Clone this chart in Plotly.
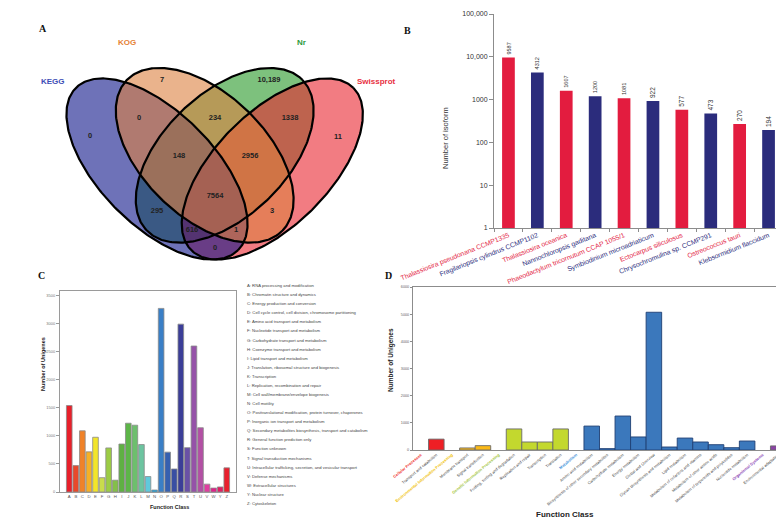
import numpy as np
import plotly.graph_objects as go

W, H = 784, 529
SANS = "Arial, Liberation Sans, sans-serif"
SERIF = "Times New Roman, Liberation Serif, serif"

# ---------------- Panel A : Venn diagram ----------------
venn_sets = ["KEGG", "KOG", "Nr", "Swissprot"]
venn_set_colors = ["#3d4db5", "#e58235", "#2e9a3c", "#e8303f"]
venn_fill = {"KEGG": "rgba(13,20,137,0.6)", "KOG": "rgba(220,128,63,0.6)",
             "Nr": "rgba(38,152,38,0.6)", "Swissprot": "rgba(233,37,47,0.6)"}
venn_regions = ["KEGG", "KOG", "Nr", "Swissprot",
                "KEGG&KOG", "KOG&Nr", "Nr&Swissprot",
                "KEGG&KOG&Nr", "KOG&Nr&Swissprot", "KEGG&KOG&Nr&Swissprot",
                "KEGG&Nr", "KOG&Swissprot", "KEGG&Nr&Swissprot",
                "KEGG&KOG&Swissprot", "KEGG&Swissprot"]
venn_counts = [0, 7, 10189, 11, 0, 234, 1338, 148, 2956, 7564, 295, 3, 616, 1, 0]

# ---------------- Panel B : species hits ----------------
species = ["Thalassiosira pseudonana CCMP1335", "Fragilariopsis cylindrus CCMP1102",
           "Thalassiosira oceanica", "Nannochloropsis gaditana",
           "Phaeodactylum tricornutum CCAP 1055/1", "Symbiodinium microadriaticum",
           "Ectocarpus siliculosus", "Chrysochromulina sp. CCMP291",
           "Ostreococcus tauri", "Klebsormidium flaccidum"]
isoform_counts = [9587, 4312, 1607, 1200, 1081, 922, 577, 473, 270, 194]
b_tick_vals = [1, 10, 100, 1000, 10000, 100000]
b_tick_text = ["1", "10", "100", "1000", "10,000", "100,000"]

# ---------------- Panel C : KOG classes ----------------
kog_classes = list("ABCDEFGHIJKLMNOPQRSTUVWYZ")
kog_counts = [1540, 470, 1090, 715, 975, 255, 785, 210, 855, 1225, 1190, 845, 275,
              35, 3270, 710, 410, 2990, 790, 2600, 1145, 140, 70, 90, 430]
kog_descriptions = [
    "RNA processing and modification",
    "Chromatin structure and dynamics",
    "Energy production and conversion",
    "Cell cycle control, cell division, chromosome partitioning",
    "Amino acid transport and metabolism",
    "Nucleotide transport and metabolism",
    "Carbohydrate transport and metabolism",
    "Coenzyme transport and metabolism",
    "Lipid transport and metabolism",
    "Translation, ribosomal structure and biogenesis",
    "Transcription",
    "Replication, recombination and repair",
    "Cell wall/membrane/envelope biogenesis",
    "Cell motility",
    "Posttranslational modification, protein turnover, chaperones",
    "Inorganic ion transport and metabolism",
    "Secondary metabolites biosynthesis, transport and catabolism",
    "General function prediction only",
    "Function unknown",
    "Signal transduction mechanisms",
    "Intracellular trafficking, secretion, and vesicular transport",
    "Defense mechanisms",
    "Extracellular structures",
    "Nuclear structure",
    "Cytoskeleton",
]
kog_colors = ["#e8202a", "#e8492a", "#f08228", "#f5b025", "#f2e52a", "#c9dc4c", "#9ccc44",
              "#84bf4a", "#5fb043", "#5db548", "#6dbf6d", "#6cc4a0", "#5fc9dc", "#1ba3e0",
              "#3a7fc6", "#3660b0", "#3a4fa3", "#3b3e98", "#6a51a6", "#9552a8", "#b34fa4",
              "#e03ea0", "#e0208a", "#e01e63", "#e8202e"]
c_tick_vals = [0, 500, 1000, 1500, 2000, 2500, 3000, 3500]

# ---------------- Panel D : KEGG pathways ----------------
kegg_labels = ["Cellular Processes", "Transport and catabolism",
               "Environmental Information Processing", "Membrane transport",
               "Signal transduction", "Genetic Information Processing",
               "Folding, sorting and degradation", "Replication and repair",
               "Transcription", "Translation", "Metabolism", "Amino acid metabolism",
               "Biosynthesis of other secondary metabolites", "Carbohydrate metabolism",
               "Energy metabolism", "Global and Overview",
               "Glycan biosynthesis and metabolism", "Lipid metabolism",
               "Metabolism of cofactors and vitamins", "Metabolism of other amino acids",
               "Metabolism of terpenoids and polyketides", "Nucleotide metabolism",
               "Organismal Systems", "Environmental adaptation"]
kegg_counts = [None, 400, None, 75, 160, None, 775, 295, 295, 775, None, 880, 50, 1250,
               480, 5070, 110, 440, 295, 195, 85, 330, None, 150]
kegg_groups = ["CP", "CP", "EIP", "EIP", "EIP", "GIP", "GIP", "GIP", "GIP", "GIP",
               "M", "M", "M", "M", "M", "M", "M", "M", "M", "M", "M", "M", "OS", "OS"]
group_colors = {"CP": "#ee1f25", "EIP": "#fbb917", "GIP": "#c3d82e", "M": "#3b78bc", "OS": "#8a44a4"}
group_text_colors = {"CP": "#ee1f25", "EIP": "#f0c000", "GIP": "#9fc43a", "M": "#3b8fd8", "OS": "#8a3fb5"}
d_tick_vals = [0, 1000, 2000, 3000, 4000, 5000, 6000]


def px_x(p):
    return p / W


def px_y(p):
    return 1 - p / H


fig = go.Figure()

# ---------- Panel A drawing ----------
venn_geom = {"KEGG": (149.0, 161.0, 114.7, 57.0, 45.0),
             "KOG": (196.7, 147.3, 108.3, 61.7, 44.0),
             "Nr": (216.7, 147.3, 108.3, 61.7, -44.0),
             "Swissprot": (264.3, 161.0, 114.7, 57.0, -45.0)}
draw_order = ["Nr", "Swissprot", "KEGG", "KOG"]
t = np.linspace(0, 2 * np.pi, 300)


def ellipse_xy(cx, cy, a, b, ang):
    r = np.radians(ang)
    ex = cx + a * np.cos(t) * np.cos(r) - b * np.sin(t) * np.sin(r)
    ey = cy + a * np.cos(t) * np.sin(r) + b * np.sin(t) * np.cos(r)
    return ex, ey


for name in draw_order:
    ex, ey = ellipse_xy(*venn_geom[name])
    fig.add_trace(go.Scatter(x=ex, y=ey, mode="lines", fill="toself", fillcolor=venn_fill[name],
                             line=dict(color="black", width=0), name=name,
                             showlegend=False, hoverinfo="skip", xaxis="x", yaxis="y"))
for name in venn_sets:
    ex, ey = ellipse_xy(*venn_geom[name])
    fig.add_trace(go.Scatter(x=ex, y=ey, mode="lines", line=dict(color="black", width=2.2),
                             showlegend=False, hoverinfo="skip", xaxis="x", yaxis="y"))

venn_label_pos = [(82, 128), (154, 72), (261, 72), (330, 129), (131, 110), (207, 110),
                  (282, 110), (171, 148), (242, 148), (207, 188), (149, 203), (264, 203),
                  (184, 222), (228, 222), (207, 240)]
venn_text = [f"<b>{v:,}</b>" if v >= 10000 else f"<b>{v}</b>" for v in venn_counts]
fig.add_trace(go.Scatter(x=[p[0] for p in venn_label_pos], y=[p[1] for p in venn_label_pos],
                         mode="text", text=venn_text,
                         textfont=dict(family=SANS, size=7.5, color="#222"),
                         showlegend=False, hoverinfo="skip", xaxis="x", yaxis="y"))
set_label_pos = [(45, 73), (119, 34), (293, 34), (368, 73)]
for name, col, (lx, ly) in zip(venn_sets, venn_set_colors, set_label_pos):
    fig.add_annotation(x=lx, y=ly, xref="x", yref="y", text=f"<b>{name}</b>",
                       showarrow=False, font=dict(family=SANS, size=8, color=col))

# ---------- Panel B drawing ----------
b_colors = ["#e31c3f" if i % 2 == 0 else "#2b2c7c" for i in range(len(species))]
fig.add_trace(go.Bar(x=species, y=isoform_counts, width=0.44,
                     marker=dict(color=b_colors, line=dict(width=0)),
                     text=[str(v) for v in isoform_counts], textposition="outside",
                     textangle=-90, textfont=dict(family=SANS, size=6.5, color="#333"),
                     cliponaxis=False, showlegend=False, xaxis="x2", yaxis="y2"))

# ---------- Panel C drawing ----------
fig.add_trace(go.Bar(x=kog_classes, y=kog_counts, width=0.86,
                     marker=dict(color=kog_colors, line=dict(color="#8a8a8a", width=0.8)),
                     showlegend=False, xaxis="x3", yaxis="y3"))

# ---------- Panel D drawing ----------
d_colors = [group_colors[g] for g in kegg_groups]
d_lines = ["#1f3f74" if g == "M" else "#6a6a6a" for g in kegg_groups]
fig.add_trace(go.Bar(x=list(range(len(kegg_labels))), y=kegg_counts, width=1.0,
                     marker=dict(color=d_colors, line=dict(color=d_lines, width=0.9)),
                     showlegend=False, xaxis="x4", yaxis="y4"))

d_ticktext = []
for lab, g, v in zip(kegg_labels, kegg_groups, kegg_counts):
    if v is None:
        d_ticktext.append(f"<b><span style='color:{group_text_colors[g]}'>{lab}</span></b>")
    else:
        d_ticktext.append(lab)

# ---------- Panel C legend (page overlay axis in pixels) ----------
legend_y = [278 + i * 9.08 for i in range(len(kog_classes))]
fig.add_trace(go.Scatter(x=[239] * len(kog_classes), y=legend_y, mode="text",
                         text=[f"{c}: {d}" for c, d in zip(kog_classes, kog_descriptions)],
                         textposition="middle right",
                         textfont=dict(family=SANS, size=4.2, color="#444"),
                         showlegend=False, hoverinfo="skip", cliponaxis=False,
                         xaxis="x5", yaxis="y5"))

AX = dict(showgrid=False, zeroline=False, automargin=False)

fig.update_layout(
    width=W, height=H, margin=dict(l=0, r=0, t=0, b=0), autosize=False,
    paper_bgcolor="white", plot_bgcolor="rgba(0,0,0,0)", showlegend=False,
    font=dict(family=SANS, color="#333"),
    # A
    xaxis=dict(domain=[0, px_x(390)], range=[0, 390], visible=False, **AX),
    yaxis=dict(domain=[px_y(265), 1], range=[265, 0], visible=False, **AX),
    # B
    xaxis2=dict(domain=[px_x(486), px_x(775)], anchor="y2", showline=True, linecolor="#8c8c8c",
                linewidth=1, ticks="outside", ticklen=3, tickcolor="#8c8c8c",
                tickson="boundaries", tickangle=-22, range=[-0.5, 9.5],
                tickvals=species,
                ticktext=[f"<span style='color:{c}'>{s}</span>" for s, c in zip(species, b_colors)],
                tickfont=dict(family=SANS, size=6.8), **AX),
    yaxis2=dict(domain=[px_y(220), px_y(6)], anchor="x2", type="log", range=[0, 5],
                showline=True, linecolor="#8c8c8c", linewidth=1, ticks="outside", ticklen=4,
                tickcolor="#8c8c8c", tickvals=b_tick_vals, ticktext=b_tick_text,
                tickfont=dict(family=SANS, size=7, color="#333"), **AX),
    # C
    xaxis3=dict(domain=[px_x(52), px_x(228)], anchor="y3", range=[-1.41, 25.41],
                showline=True, mirror=True, linecolor="#9a9a9a", linewidth=1, ticks="",
                tickfont=dict(family=SANS, size=4.3, color="#555"), **AX),
    yaxis3=dict(domain=[px_y(484), px_y(282.5)], anchor="x3", range=[0, 3589],
                showline=True, mirror=True, linecolor="#9a9a9a", linewidth=1, ticks="outside",
                ticklen=3, tickcolor="#9a9a9a", tickvals=c_tick_vals,
                tickfont=dict(family=SANS, size=4, color="#777"), **AX),
    # D
    xaxis4=dict(domain=[px_x(405), px_x(778)], anchor="y4", range=[-0.5, 23.5],
                showline=True, mirror=True, linecolor="#8c8c8c", linewidth=1, ticks="",
                tickvals=list(range(len(kegg_labels))), ticktext=d_ticktext, tickangle=-40,
                tickfont=dict(family=SANS, size=4, color="#444"), **AX),
    yaxis4=dict(domain=[px_y(442), px_y(279)], anchor="x4", range=[0, 6000],
                showline=True, mirror=True, linecolor="#8c8c8c", linewidth=1, ticks="outside",
                ticklen=2, tickcolor="#8c8c8c", tickvals=d_tick_vals,
                tickfont=dict(family=SANS, size=3.8, color="#666"), **AX),
    # page overlay in pixel units
    xaxis5=dict(domain=[0, 1], range=[0, W], visible=False, anchor="y5", **AX),
    yaxis5=dict(domain=[0, 1], range=[H, 0], visible=False, anchor="x5", **AX),
)

# panel letters
for letter, lx, ly in [("A", 29, 13), ("B", 399, 15), ("C", 28, 267), ("D", 380, 267)]:
    fig.add_annotation(x=px_x(lx), y=px_y(ly), xref="paper", yref="paper", text=f"<b>{letter}</b>",
                       showarrow=False, font=dict(family=SERIF, size=10, color="#111"))

# axis titles
fig.add_annotation(x=px_x(437), y=px_y(97), xref="paper", yref="paper", text="Number of isoform",
                   textangle=-90, showarrow=False, font=dict(family=SANS, size=7.5, color="#333"))
fig.add_annotation(x=px_x(30), y=px_y(385), xref="paper", yref="paper", text="<b>Number of Unigenes</b>",
                   textangle=-90, showarrow=False, font=dict(family=SANS, size=5.5, color="#222"))
fig.add_annotation(x=px_x(140), y=px_y(504), xref="paper", yref="paper", text="<b>Function Class</b>",
                   showarrow=False, font=dict(family=SANS, size=5.5, color="#222"))
fig.add_annotation(x=px_x(383), y=px_y(352), xref="paper", yref="paper", text="<b>Number of Unigenes</b>",
                   textangle=-90, showarrow=False, font=dict(family=SANS, size=6.5, color="#222"))
fig.add_annotation(x=px_x(588), y=px_y(513), xref="paper", yref="paper", text="<b>Function Class</b>",
                   showarrow=False, font=dict(family=SANS, size=8, color="#222"))

fig.write_html("out.html")
